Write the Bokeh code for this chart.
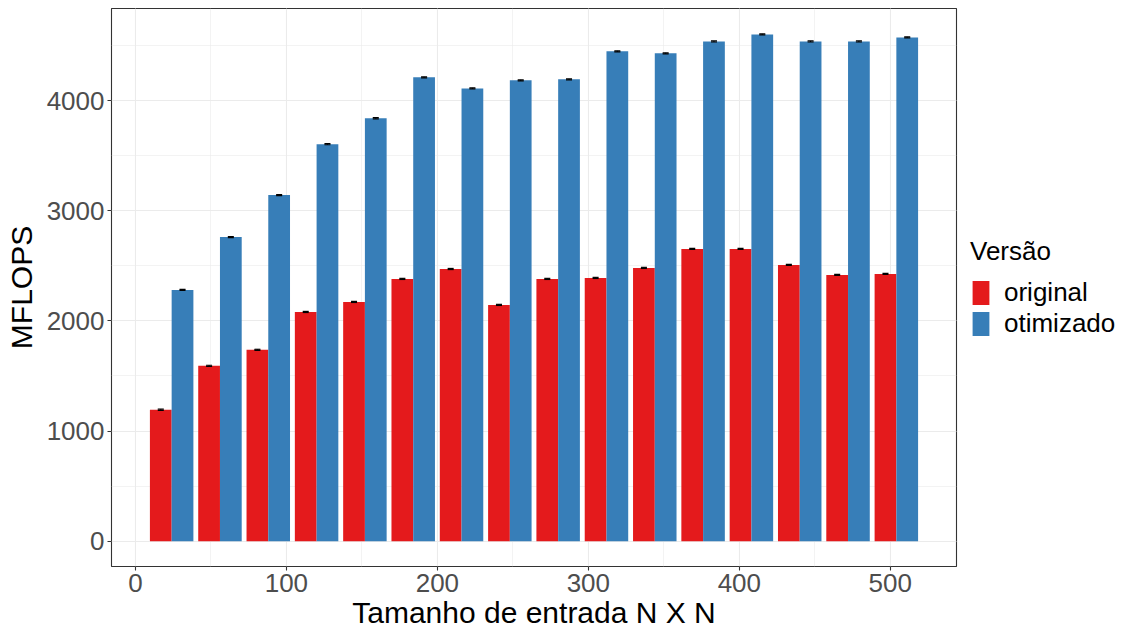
from bokeh.plotting import figure
from bokeh.models import (ColumnDataSource, Range1d, SingleIntervalTicker, Legend, LegendItem)
from bokeh.transform import dodge
from bokeh.embed import file_html
from bokeh.resources import INLINE

# ---- data ----
n_sizes = [24, 56, 88, 120, 152, 184, 216, 248, 280, 312, 344, 376, 408, 440, 472, 504]
original = [1193, 1592, 1737, 2081, 2172, 2381, 2471, 2145, 2381, 2390, 2481, 2653, 2653, 2508, 2417, 2426]
otimizado = [2281, 2761, 3142, 3604, 3840, 4211, 4111, 4184, 4193, 4447, 4429, 4537, 4601, 4537, 4537, 4574]
err_original = [5] * 16
err_otimizado = [5] * 16
series_labels = ["original", "otimizado"]
legend_title = "Versão"
x_title = "Tamanho de entrada N X N"
y_title = "MFLOPS"

RED = "#E41A1C"
BLUE = "#377EB8"
FONT = "Liberation Sans"

step = n_sizes[1] - n_sizes[0]
dodge_w = 0.9 * step
bar_w = dodge_w / 2

src = ColumnDataSource(dict(
    n=n_sizes, orig=original, otim=otimizado,
    orig_lo=[v - e for v, e in zip(original, err_original)],
    orig_hi=[v + e for v, e in zip(original, err_original)],
    otim_lo=[v - e for v, e in zip(otimizado, err_otimizado)],
    otim_hi=[v + e for v, e in zip(otimizado, err_otimizado)],
))

xlo = min(n_sizes) - dodge_w / 2
xhi = max(n_sizes) + dodge_w / 2
ymax = max(v + e for v, e in zip(otimizado, err_otimizado))
ymin = 0

p = figure(width=1118, height=620, output_backend="svg", toolbar_location=None,
           frame_width=845, frame_height=558,
           min_border_left=111, min_border_right=162, min_border_top=8, min_border_bottom=54,
           x_range=Range1d(xlo - 0.05 * (xhi - xlo), xhi + 0.05 * (xhi - xlo)),
           y_range=Range1d(ymin - 0.05 * (ymax - ymin), ymax + 0.05 * (ymax - ymin)))

p.background_fill_color = "white"
p.border_fill_color = "white"
p.outline_line_color = "#333333"
p.outline_line_width = 1.1

r1 = p.vbar(x=dodge("n", -bar_w / 2), top="orig", bottom=0, width=bar_w, source=src,
            fill_color=RED, line_color=None)
r2 = p.vbar(x=dodge("n", bar_w / 2), top="otim", bottom=0, width=bar_w, source=src,
            fill_color=BLUE, line_color=None)

cap = 2.0
for key, off in (("orig", -bar_w / 2), ("otim", bar_w / 2)):
    p.segment(x0=dodge("n", off), x1=dodge("n", off), y0=key + "_lo", y1=key + "_hi",
              source=src, line_color="black", line_width=1)
    p.segment(x0=dodge("n", off - cap), x1=dodge("n", off + cap), y0=key + "_lo", y1=key + "_lo",
              source=src, line_color="black", line_width=1.2)
    p.segment(x0=dodge("n", off - cap), x1=dodge("n", off + cap), y0=key + "_hi", y1=key + "_hi",
              source=src, line_color="black", line_width=1.2)

p.xaxis.ticker = SingleIntervalTicker(interval=100, num_minor_ticks=2)
p.yaxis.ticker = SingleIntervalTicker(interval=1000, num_minor_ticks=2)

for ax in (p.xaxis[0], p.yaxis[0]):
    ax.axis_line_color = None
    ax.major_tick_line_color = "#333333"
    ax.major_tick_line_width = 1.1
    ax.major_tick_out = 4
    ax.major_tick_in = 0
    ax.minor_tick_line_color = None
    ax.major_label_text_font = FONT
    ax.major_label_text_font_size = "26px"
    ax.major_label_text_color = "#4D4D4D"
    ax.axis_label_text_font = FONT
    ax.axis_label_text_font_size = "30px"
    ax.axis_label_text_font_style = "normal"
    ax.axis_label_text_color = "black"

p.xaxis.axis_label = x_title
p.yaxis.axis_label = y_title
p.xaxis.major_label_standoff = 3
p.xaxis.axis_label_standoff = 1
p.yaxis.major_label_standoff = 3
p.yaxis.axis_label_standoff = 6

for g in (p.xgrid[0], p.ygrid[0]):
    g.grid_line_color = "#EBEBEB"
    g.grid_line_width = 1.1
    g.minor_grid_line_color = "#EBEBEB"
    g.minor_grid_line_width = 0.6

legend = Legend(items=[LegendItem(label=series_labels[0], renderers=[r1]),
                       LegendItem(label=series_labels[1], renderers=[r2])],
                title=legend_title, location="center_left")
legend.title_text_font = FONT
legend.title_text_font_size = "26px"
legend.title_text_font_style = "normal"
legend.title_text_color = "black"
legend.title_standoff = 10
legend.label_text_font = FONT
legend.label_text_font_size = "26px"
legend.label_text_color = "black"
legend.glyph_width = 21
legend.glyph_height = 30
legend.label_height = 30
legend.spacing = -5
legend.label_standoff = 13
legend.padding = 0
legend.margin = 14
legend.border_line_color = None
legend.background_fill_alpha = 0
p.add_layout(legend, "right")

open("out.html", "w").write(file_html(p, INLINE))
